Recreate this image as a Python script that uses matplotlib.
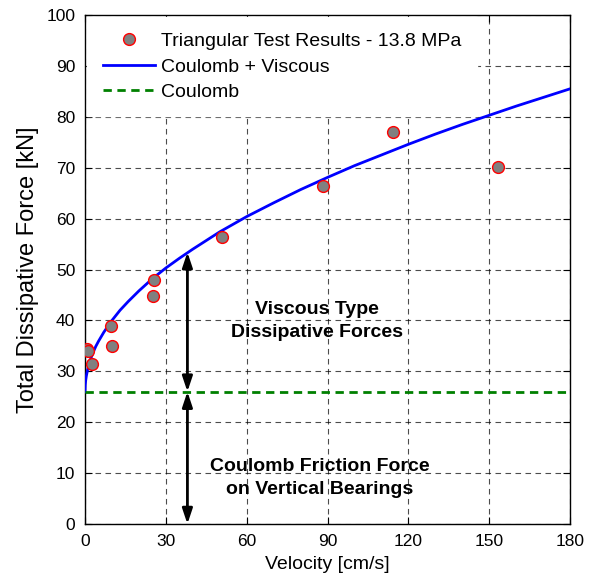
import matplotlib
matplotlib.use("Agg")
import matplotlib.pyplot as plt

plt.rcParams['font.family'] = ['Liberation Sans', 'DejaVu Sans']

# test results (velocity cm/s, force kN)
test_v = [0.85, 1.2, 2.5, 9.5, 10.1, 25.6, 25.1, 50.9, 88.3, 114.3, 153.2]
test_f = [34.3, 33.9, 31.4, 39.0, 35.0, 47.9, 44.7, 56.4, 66.4, 77.0, 70.2]

# Coulomb + Viscous curve
curve_v = [0, 0.1, 0.25, 0.5, 1, 1.5, 2, 3, 4, 5, 7, 10, 13, 16, 20, 25, 30,
           35, 40, 50, 60, 70, 80, 90, 100, 110, 120, 130, 140, 150, 160, 170, 180]
curve_f = [26.0, 27.4, 28.2, 29.1, 30.4, 31.4, 32.3, 33.7, 34.9, 35.9, 37.7,
           40.0, 42.0, 43.7, 45.8, 48.2, 50.3, 52.2, 54.0, 57.4, 60.4, 63.1,
           65.7, 68.1, 70.4, 72.5, 74.6, 76.6, 78.5, 80.3, 82.1, 83.8, 85.5]

coulomb_f = 26.0
arrow_v = 38.0
arrow_top = 53.4

fig = plt.figure(figsize=(5.92, 5.84), dpi=100)
ax = fig.add_axes([0.1436, 0.1027, 0.8194, 0.8716])

ax.plot(test_v, test_f, 'o', ms=8.5, mfc=(0.5, 0.5, 0.5), mec='red', mew=1,
        label='Triangular Test Results - 13.8 MPa', zorder=4)
ax.plot(curve_v, curve_f, '-', color='blue', lw=2, label='Coulomb + Viscous', zorder=3)
ax.axhline(coulomb_f, color=(0, 0.5, 0), ls='--', lw=2, dashes=(3, 2),
           label='Coulomb', zorder=3)

arrow_kw = dict(arrowstyle='<|-|>,head_length=0.9,head_width=0.3', color='black',
                lw=2, shrinkA=0, shrinkB=0)
ax.annotate('', xy=(arrow_v, arrow_top), xytext=(arrow_v, coulomb_f),
            arrowprops=arrow_kw, zorder=5)
ax.annotate('', xy=(arrow_v, coulomb_f), xytext=(arrow_v, 0),
            arrowprops=arrow_kw, zorder=5)

ax.text(86, 39.9, 'Viscous Type\nDissipative Forces', ha='center', va='center',
        fontsize=14, fontweight='bold', linespacing=1.5, zorder=6)
ax.text(87, 9.0, 'Coulomb Friction Force\non Vertical Bearings', ha='center',
        va='center', fontsize=14, fontweight='bold', linespacing=1.5, zorder=6)

ax.set_xlim(0, 180)
ax.set_ylim(0, 100)
ax.set_xticks(range(0, 181, 30))
ax.set_yticks(range(0, 101, 10))
ax.tick_params(direction='in', top=True, right=True, labelsize=12.5, length=5,
               pad=7)
ax.grid(True, color='black', ls='--', lw=0.8, dashes=(5, 4), alpha=0.7)
ax.set_axisbelow(True)
for s in ax.spines.values():
    s.set_linewidth(1)

ax.set_xlabel('Velocity [cm/s]', fontsize=14, labelpad=5)
ax.set_ylabel('Total Dissipative Force [kN]', fontsize=17, labelpad=5)

leg = ax.legend(loc='upper left', fontsize=14, frameon=True, fancybox=False,
                edgecolor='white', framealpha=1, borderaxespad=0.1,
                handlelength=2.7, handletextpad=0.3, labelspacing=0.4,
                borderpad=0.8)
leg.set_zorder(7)

fig.savefig('out.png', dpi=100)
